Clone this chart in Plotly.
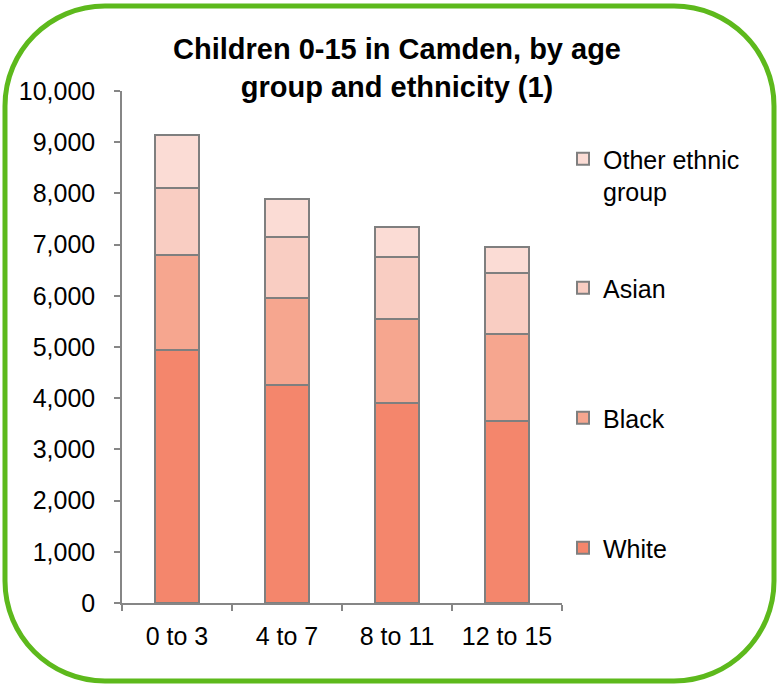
import plotly.graph_objects as go

categories = ["0 to 3", "4 to 7", "8 to 11", "12 to 15"]
white = [4950, 4250, 3900, 3550]
black = [1850, 1700, 1650, 1700]
asian = [1300, 1200, 1200, 1200]
other = [1050, 750, 600, 500]

series_names = ["White", "Black", "Asian", "Other ethnic<br>group"]
series_values = [white, black, asian, other]
series_colors = ["#F4866C", "#F6A68F", "#F9CDC2", "#FBDCD5"]
legend_ids = ["legend", "legend2", "legend3", "legend4"]

W, H = 778, 687
L, R, T, B = 122, 216, 91, 84
PW, PH = W - L - R, H - T - B

def px(x):
    return (x - L) / PW

def py(y):
    return (H - B - y) / PH

FONT = "Liberation Sans, Arial, sans-serif"

fig = go.Figure()
for name, vals, col, lg in zip(series_names, series_values, series_colors, legend_ids):
    fig.add_trace(go.Bar(
        x=categories, y=vals, name=name, legend=lg, showlegend=True,
        marker=dict(color=col, line=dict(color="#7F7F7F", width=2)),
        width=0.4,
    ))

leg_common = dict(
    font=dict(family=FONT, size=25, color="#000000"),
    bgcolor="rgba(0,0,0,0)", xanchor="left", x=px(563),
    itemsizing="constant", visible=True,
)
fig.update_layout(
    showlegend=True,
    legend=dict(**leg_common, y=py(548), yanchor="middle"),
    legend2=dict(**leg_common, y=py(418), yanchor="middle"),
    legend3=dict(**leg_common, y=py(288), yanchor="middle"),
    legend4=dict(**leg_common, y=py(136), yanchor="top", valign="top"),
)

# rounded green border
x0, x1, y0, y1, r = 5, 774, 6, 681, 100
k = 0.5523 * r
pts = [
    ("M", [(x0 + r, y0)]),
    ("L", [(x1 - r, y0)]),
    ("C", [(x1 - r + k, y0), (x1, y0 + r - k), (x1, y0 + r)]),
    ("L", [(x1, y1 - r)]),
    ("C", [(x1, y1 - r + k), (x1 - r + k, y1), (x1 - r, y1)]),
    ("L", [(x0 + r, y1)]),
    ("C", [(x0 + r - k, y1), (x0, y1 - r + k), (x0, y1 - r)]),
    ("L", [(x0, y0 + r)]),
    ("C", [(x0, y0 + r - k), (x0 + r - k, y0), (x0 + r, y0)]),
]
path = ""
for cmd, ps in pts:
    path += cmd + " ".join(f"{px(a):.5f},{py(b):.5f}" for a, b in ps) + " "
path += "Z"
fig.add_shape(type="path", path=path, xref="paper", yref="paper",
              line=dict(color="#5DB91C", width=5), layer="above")

fig.update_layout(
    barmode="stack",
    width=W, height=H, autosize=False,
    margin=dict(l=L, r=R, t=T, b=B, pad=0),
    paper_bgcolor="white", plot_bgcolor="white",
    font=dict(family=FONT, size=25, color="#000000"),
    title=dict(
        text="<b>Children 0-15 in Camden, by age<br>group and ethnicity (1)</b>",
        x=px(397), xanchor="center", xref="paper",
        y=1 - 59 / H, yanchor="top", yref="container",
        font=dict(family=FONT, size=29, color="#000000"),
    ),
    bargap=0.6,
)
fig.update_yaxes(
    range=[0, 10000], dtick=1000, tickformat=",", showgrid=False,
    zeroline=False, showline=True, linecolor="#868686", linewidth=1.5,
    ticks="outside", ticklen=6, tickcolor="#868686", tickwidth=1.5,
    ticklabelstandoff=14, tickfont=dict(family=FONT, size=25),
)
fig.update_xaxes(
    showgrid=False, showline=True, linecolor="#868686", linewidth=1.5,
    ticks="outside", ticklen=6, tickcolor="#868686", tickwidth=1.5,
    tickson="boundaries", ticklabelstandoff=10,
    tickfont=dict(family=FONT, size=25),
)

fig.write_html("out.html")
